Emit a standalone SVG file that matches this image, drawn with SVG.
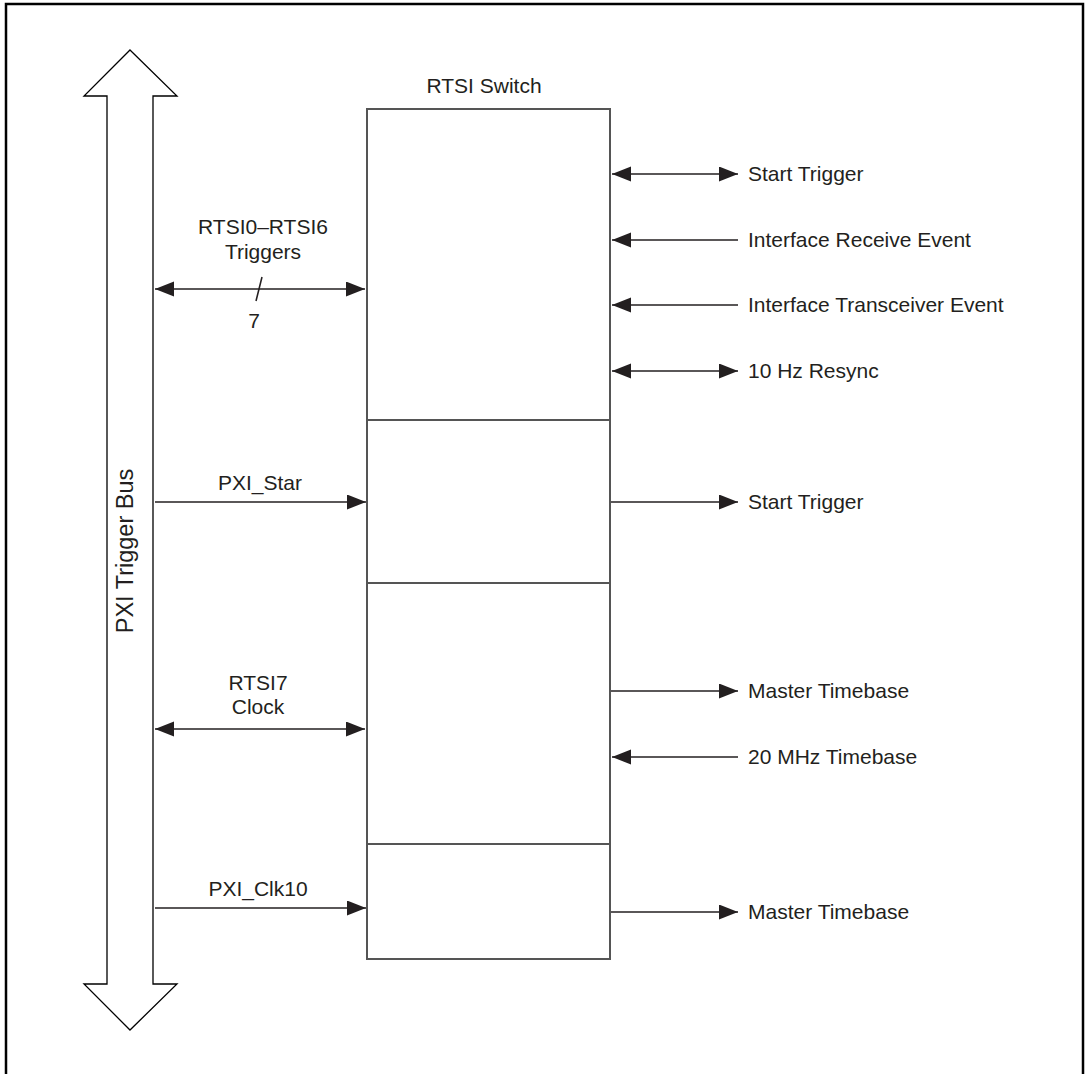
<svg xmlns="http://www.w3.org/2000/svg" width="1086" height="1074" viewBox="0 0 1086 1074">
<style>
text{font-family:"Liberation Sans",Arial,sans-serif;font-size:21px;fill:#231f20}
.c{text-anchor:middle}
.ln{stroke:#231f20;stroke-width:1.5;fill:none}
.box{stroke:#555;stroke-width:2;fill:#fff}
</style>
<defs>
<marker id="ah" markerUnits="userSpaceOnUse" markerWidth="20" markerHeight="16" refX="19" refY="7.5" orient="auto-start-reverse" viewBox="0 0 20 16">
<path d="M0,0 L19,7.5 L0,15 Z" fill="#231f20"/>
</marker>
</defs>
<rect x="6" y="4" width="1077" height="1080" fill="#fff" stroke="#000" stroke-width="2.5"/>
<g id="bus">
<polygon points="130,50 177,96 153,96 153,984 177,984 130,1030 84,984 107,984 107,96 84,96" fill="#fff" stroke="#000" stroke-width="1.3"/>
<text class="c" style="font-size:23.5px" transform="translate(133,551) rotate(-90)">PXI Trigger Bus</text>
</g>
<g id="switch">
<rect class="box" x="367" y="109" width="243" height="850"/>
<line class="box" x1="367" y1="420" x2="610" y2="420"/>
<line class="box" x1="367" y1="583" x2="610" y2="583"/>
<line class="box" x1="367" y1="844" x2="610" y2="844"/>
<text class="c" x="484" y="93">RTSI Switch</text>
</g>
<g id="connectors">
<line class="ln" x1="155" y1="289" x2="365" y2="289" marker-start="url(#ah)" marker-end="url(#ah)"/>
<line class="ln" x1="262" y1="277" x2="256" y2="301"/>
<line class="ln" x1="155" y1="502" x2="366" y2="502" marker-end="url(#ah)"/>
<line class="ln" x1="155" y1="729" x2="365" y2="729" marker-start="url(#ah)" marker-end="url(#ah)"/>
<line class="ln" x1="155" y1="908" x2="366" y2="908" marker-end="url(#ah)"/>
<line class="ln" x1="612" y1="174" x2="738" y2="174" marker-start="url(#ah)" marker-end="url(#ah)"/>
<line class="ln" x1="738" y1="240" x2="612" y2="240" marker-end="url(#ah)"/>
<line class="ln" x1="738" y1="305" x2="612" y2="305" marker-end="url(#ah)"/>
<line class="ln" x1="612" y1="371" x2="738" y2="371" marker-start="url(#ah)" marker-end="url(#ah)"/>
<line class="ln" x1="611" y1="502" x2="738" y2="502" marker-end="url(#ah)"/>
<line class="ln" x1="611" y1="691" x2="738" y2="691" marker-end="url(#ah)"/>
<line class="ln" x1="738" y1="757" x2="612" y2="757" marker-end="url(#ah)"/>
<line class="ln" x1="611" y1="912" x2="738" y2="912" marker-end="url(#ah)"/>
</g>
<g id="left-labels">
<text class="c" x="263" y="234">RTSI0–RTSI6</text>
<text class="c" x="263" y="259">Triggers</text>
<text class="c" x="254" y="328">7</text>
<text class="c" x="260" y="490">PXI_Star</text>
<text class="c" x="258" y="690">RTSI7</text>
<text class="c" x="258" y="714">Clock</text>
<text class="c" x="258" y="896">PXI_Clk10</text>
</g>
<g id="right-labels">
<text x="748" y="181">Start Trigger</text>
<text x="748" y="247">Interface Receive Event</text>
<text x="748" y="312">Interface Transceiver Event</text>
<text x="748" y="378">10 Hz Resync</text>
<text x="748" y="509">Start Trigger</text>
<text x="748" y="698">Master Timebase</text>
<text x="748" y="764">20 MHz Timebase</text>
<text x="748" y="919">Master Timebase</text>
</g>
</svg>
